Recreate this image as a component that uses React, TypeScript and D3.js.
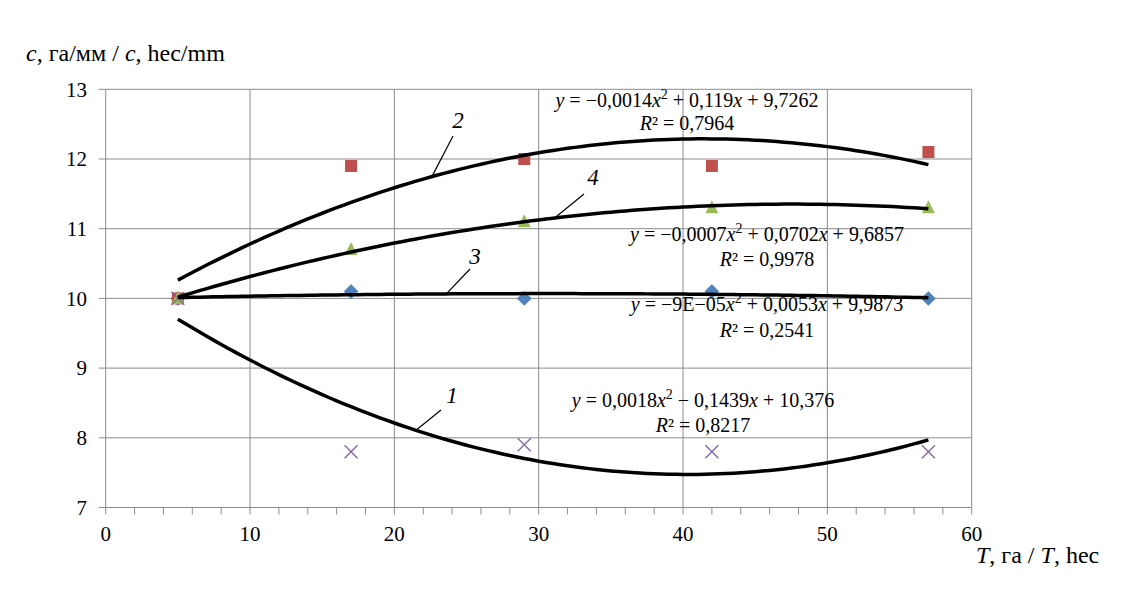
import React from "react";
import * as d3 from "d3";

const xValues = [5, 17, 29, 42, 57];
const series1 = [10, 7.8, 7.9, 7.8, 7.8]; // crosses, curve 1
const series2 = [10, 11.9, 12.0, 11.9, 12.1]; // squares, curve 2
const series3 = [10, 10.1, 10.0, 10.1, 10.0]; // diamonds, curve 3
const series4 = [10, 10.7, 11.1, 11.3, 11.3]; // triangles, curve 4

const curveNames = ["1", "2", "3", "4"];
// equation texts as printed on the chart
const eqTexts = [
  ["0,0018", "− 0,1439", "+ 10,376", "0,8217"],
  ["−0,0014", "+ 0,119", "+ 9,7262", "0,7964"],
  ["−9E−05", "+ 0,0053", "+ 9,9873", "0,2541"],
  ["−0,0007", "+ 0,0702", "+ 9,6857", "0,9978"],
];

const xTicks = [0, 10, 20, 30, 40, 50, 60];
const yTicks = [7, 8, 9, 10, 11, 12, 13];
const xMinorTicks = d3.range(0, 61, 2);

const W = 1144;
const H = 609;
const FONT = "Liberation Serif";

// least-squares quadratic trendline (as the spreadsheet computes it)
function quadFit(xs: number[], ys: number[]): [number, number, number] {
  let s0 = 0, s1 = 0, s2 = 0, s3 = 0, s4 = 0, t0 = 0, t1 = 0, t2 = 0;
  xs.forEach((xv, i) => {
    const yv = ys[i];
    s0 += 1; s1 += xv; s2 += xv * xv; s3 += xv ** 3; s4 += xv ** 4;
    t0 += yv; t1 += xv * yv; t2 += xv * xv * yv;
  });
  const M = [
    [s4, s3, s2, t2],
    [s3, s2, s1, t1],
    [s2, s1, s0, t0],
  ];
  for (let c = 0; c < 3; c++) {
    for (let r = c + 1; r < 3; r++) {
      const f = M[r][c] / M[c][c];
      for (let k = c; k < 4; k++) M[r][k] -= f * M[c][k];
    }
  }
  const sol = [0, 0, 0];
  for (let r = 2; r >= 0; r--) {
    let s = M[r][3];
    for (let k = r + 1; k < 3; k++) s -= M[r][k] * sol[k];
    sol[r] = s / M[r][r];
  }
  return [sol[0], sol[1], sol[2]];
}

export default function App() {
  const x = d3.scaleLinear().domain([0, 60]).range([105.7, 971.7]);
  const y = d3.scaleLinear().domain([7, 13]).range([507.5, 89.3]);
  const gridColor = "#8c8c8c";
  const allSeries = [series1, series2, series3, series4];
  const fits = allSeries.map((s) => quadFit(xValues, s));
  const f = (i: number, t: number) => fits[i][0] * t * t + fits[i][1] * t + fits[i][2];

  const curveLine = (i: number) => {
    const pts = d3.range(xValues[0], xValues[xValues.length - 1] + 0.001, 0.5).map((t) => [t, f(i, t)] as [number, number]);
    return d3
      .line<[number, number]>()
      .x((d) => x(d[0]))
      .y((d) => y(d[1]))(pts) as string;
  };

  const eqLayout: [number, number, number][] = [
    [703, 407, 432],
    [687, 107, 130],
    [767, 311, 337],
    [767, 241, 266],
  ];
  const numLayout: { tx: number; ty: number; sx: number; sy: number; ex: number }[] = [
    { tx: 452, ty: 403, sx: 441, sy: 410, ex: 21.5 },
    { tx: 458, ty: 128, sx: 453, sy: 136, ex: 22.6 },
    { tx: 475, ty: 264, sx: 470, sy: 269, ex: 23.6 },
    { tx: 593, ty: 185, sx: 584, sy: 194, ex: 31.1 },
  ];

  const sq = 12;
  const tri = 13;
  const dia = 7;
  const cr = 6.5;
  const ts = { fontFamily: FONT };

  return (
    <svg width={W} height={H} style={{ position: "absolute", left: 0, top: 0, background: "#fff" }}>
      <rect x={0} y={0} width={W} height={H} fill="#fff" />
      {yTicks.map((v) => (
        <line key={"gy" + v} x1={x(0) - 7} x2={x(60)} y1={y(v)} y2={y(v)} stroke={gridColor} strokeWidth={1} />
      ))}
      {xTicks.map((v) => (
        <line key={"gx" + v} x1={x(v)} x2={x(v)} y1={y(13)} y2={y(7)} stroke={gridColor} strokeWidth={1} />
      ))}
      {xMinorTicks.map((v) => (
        <line key={"mx" + v} x1={x(v)} x2={x(v)} y1={y(7)} y2={y(7) + 7} stroke={gridColor} strokeWidth={1} />
      ))}
      {yTicks.map((v) => (
        <text key={"ty" + v} style={ts} x={87} y={y(v)} dy="0.35em" textAnchor="end" fontSize={21} fill="#000">
          {v}
        </text>
      ))}
      {xTicks.map((v) => (
        <text key={"tx" + v} style={ts} x={x(v)} y={541} textAnchor="middle" fontSize={21} fill="#000">
          {v}
        </text>
      ))}
      <text style={ts} x={26} y={61} fontSize={24} fill="#000">
        <tspan fontStyle="italic">c</tspan>, га/мм / <tspan fontStyle="italic">c</tspan>, hec/mm
      </text>
      <text style={ts} x={976} y={563} fontSize={24} fill="#000">
        <tspan fontStyle="italic">T</tspan>, га / <tspan fontStyle="italic">T</tspan>, hec
      </text>

      {xValues.map((t, i) => {
        const cx = x(t);
        const cy = y(series3[i]);
        return (
          <path
            key={"d" + i}
            d={`M${cx},${cy - dia}L${cx + dia},${cy}L${cx},${cy + dia}L${cx - dia},${cy}Z`}
            fill="#4F81BD"
            stroke="#3f6ea6"
            strokeWidth={0.5}
          />
        );
      })}
      {xValues.map((t, i) => (
        <rect key={"s" + i} x={x(t) - sq / 2} y={y(series2[i]) - sq / 2} width={sq} height={sq} fill="#C0504D" />
      ))}
      {xValues.map((t, i) => {
        const cx = x(t);
        const cy = y(series4[i]);
        return (
          <path
            key={"t" + i}
            d={`M${cx},${cy - tri / 2 - 1}L${cx + tri / 2},${cy + tri / 2 - 1}L${cx - tri / 2},${cy + tri / 2 - 1}Z`}
            fill="#9BBB59"
          />
        );
      })}
      {xValues.map((t, i) => {
        const cx = x(t);
        const cy = y(series1[i]);
        return (
          <path
            key={"c" + i}
            d={`M${cx - cr},${cy - cr}L${cx + cr},${cy + cr}M${cx + cr},${cy - cr}L${cx - cr},${cy + cr}`}
            stroke="#8064A2"
            strokeWidth={1.3}
            fill="none"
          />
        );
      })}

      {curveNames.map((n, i) => (
        <path key={"curve" + n} d={curveLine(i)} fill="none" stroke="#000" strokeWidth={3.5} strokeLinejoin="round" />
      ))}

      {curveNames.map((n, i) => {
        const l = numLayout[i];
        const ey = y(f(i, l.ex));
        return (
          <g key={"lbl" + n}>
            <line x1={l.sx} y1={l.sy} x2={x(l.ex)} y2={ey} stroke="#000" strokeWidth={1.2} />
            <text style={ts} x={l.tx} y={l.ty} textAnchor="middle" fontSize={23} fontStyle="italic" fill="#000">
              {n}
            </text>
          </g>
        );
      })}

      {curveNames.map((n, i) => {
        const [cx, by, rb] = eqLayout[i];
        const e = eqTexts[i];
        return (
          <g key={"eq" + n} fill="#000" fontSize={20}>
            <text style={ts} x={cx} y={by} textAnchor="middle">
              <tspan fontStyle="italic">y</tspan> = {e[0]}
              <tspan fontStyle="italic">x</tspan>
              <tspan fontSize={14} dy={-8}>2</tspan>
              <tspan dy={8}> {e[1]}</tspan>
              <tspan fontStyle="italic">x</tspan> {e[2]}
            </text>
            <text style={ts} x={cx} y={rb} textAnchor="middle">
              <tspan fontStyle="italic">R</tspan>² = {e[3]}
            </text>
          </g>
        );
      })}
    </svg>
  );
}
